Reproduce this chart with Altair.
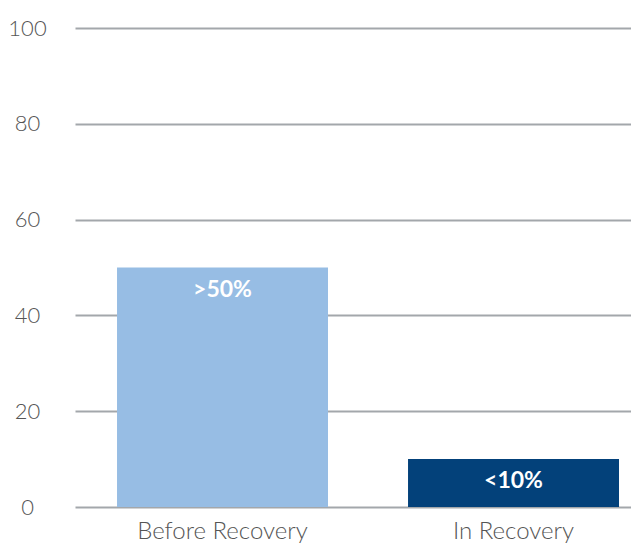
import altair as alt
import pandas as pd

categories = ["Before Recovery", "In Recovery"]
values = [50, 10]
labels = [">50%", "<10%"]
colors = ["#97BDE4", "#03417A"]

df = pd.DataFrame({"cat": categories, "val": values, "lab": labels, "col": colors})

FONT = "Lato"

x = alt.X("cat:N", sort=categories, title=None,
          scale=alt.Scale(paddingInner=0.275, paddingOuter=0.0928, align=0.778),
          axis=alt.Axis(labelAngle=0, labelFontSize=24, labelFont=FONT, labelFontWeight=300,
                        labelColor="#555555", labelPadding=12, ticks=False, domain=False, grid=False))
y = alt.Y("val:Q", title=None,
          scale=alt.Scale(domain=[0, 100], nice=False),
          axis=alt.Axis(values=[0, 20, 40, 60, 80, 100], labelFontSize=22, labelFont=FONT,
                        labelFontWeight=300, labelColor="#555555", labelAlign="center",
                        labelPadding=48, ticks=False, domain=False,
                        gridColor="#A3A7AB", gridWidth=2, gridOpacity=1))

bars = alt.Chart(df).mark_bar().encode(
    x=x, y=y, color=alt.Color("col:N", scale=None)
)

text = alt.Chart(df).mark_text(
    color="white", fontSize=23, fontWeight="bold", font=FONT, baseline="middle", dy=22
).encode(x=alt.X("cat:N", sort=categories), y="val:Q", text="lab:N")

chart = alt.layer(bars, text).properties(
    width=556, height=479,
    padding={"left": 67, "top": 20, "right": 0, "bottom": 37},
    autosize="none",
).configure_view(stroke=None)

chart.save("out.html", embed_options={"renderer": "svg", "actions": False})
